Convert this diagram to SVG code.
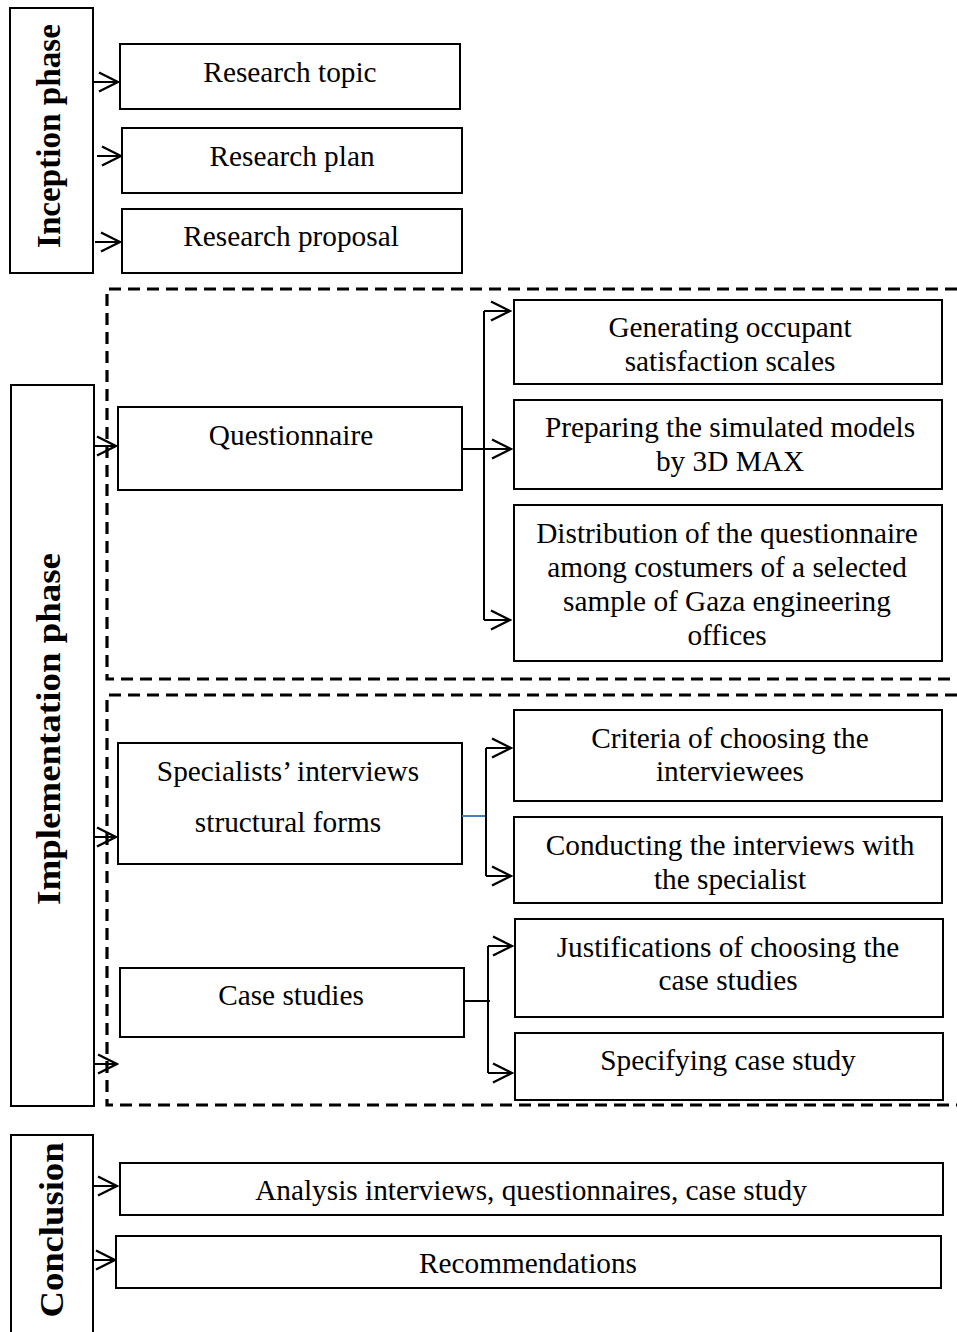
<svg xmlns="http://www.w3.org/2000/svg" width="957" height="1332" viewBox="0 0 957 1332">
<style>
.box{fill:#fff;stroke:#000;stroke-width:2}
.t{font-family:"Liberation Serif","Times New Roman",serif;font-size:29.3px;text-anchor:middle;fill:#000}
.v{font-family:"Liberation Serif","Times New Roman",serif;font-size:33px;font-weight:bold;text-anchor:middle;fill:#000}
.ln{fill:none;stroke:#000;stroke-width:2}
.dash{fill:none;stroke:#000;stroke-width:3.2;stroke-dasharray:12 7}
</style>
<defs>
<marker id="ah" markerUnits="userSpaceOnUse" markerWidth="24" markerHeight="24" refX="22" refY="12" orient="auto" viewBox="0 0 24 24">
<path d="M3,2.5 L22,12 L3,21.5" fill="none" stroke="#000" stroke-width="2.4"/>
</marker>
</defs>

<g id="dashed-frames">
<path class="dash" d="M957,289 L107,289 L107,679 L957,679"/>
<path class="dash" d="M957,695 L107,695 L107,1105 L957,1105"/>
</g>

<g id="inception-phase">
<rect class="box" x="10" y="8" width="83" height="265"/>
<text class="v" transform="translate(60,136) rotate(-90)" textLength="224" lengthAdjust="spacingAndGlyphs">Inception phase</text>
</g>
<g id="research-topic">
<rect class="box" x="120" y="44" width="340" height="65"/>
<text class="t" x="290" y="82">Research topic</text>
</g>
<g id="research-plan">
<rect class="box" x="122" y="128" width="340" height="65"/>
<text class="t" x="292" y="166">Research plan</text>
</g>
<g id="research-proposal">
<rect class="box" x="122" y="209" width="340" height="64"/>
<text class="t" x="291" y="246">Research proposal</text>
</g>

<g id="implementation-phase">
<path class="box" d="M94,385 L11,385 L11,1106 L94,1106 Z"/>
<text class="v" transform="translate(60,729) rotate(-90)" textLength="352" lengthAdjust="spacingAndGlyphs">Implementation phase</text>
</g>

<g id="questionnaire">
<rect class="box" x="118" y="407" width="344" height="83"/>
<text class="t" x="291" y="445">Questionnaire</text>
</g>
<g id="generating">
<rect class="box" x="514" y="300" width="428" height="84"/>
<text class="t" x="730" y="337">Generating occupant</text>
<text class="t" x="730" y="371">satisfaction scales</text>
</g>
<g id="preparing">
<rect class="box" x="514" y="400" width="428" height="89"/>
<text class="t" x="730" y="437">Preparing the simulated models</text>
<text class="t" x="730" y="471">by 3D MAX</text>
</g>
<g id="distribution">
<rect class="box" x="514" y="505" width="428" height="156"/>
<text class="t" x="727" y="543">Distribution of the questionnaire</text>
<text class="t" x="727" y="577">among costumers of a selected</text>
<text class="t" x="727" y="611">sample of Gaza engineering</text>
<text class="t" x="727" y="645">offices</text>
</g>

<g id="specialists">
<rect class="box" x="118" y="743" width="344" height="121"/>
<text class="t" x="288" y="781">Specialists’ interviews</text>
<text class="t" x="288" y="832">structural forms</text>
</g>
<g id="criteria">
<rect class="box" x="514" y="710" width="428" height="91"/>
<text class="t" x="730" y="748">Criteria of choosing the</text>
<text class="t" x="730" y="781">interviewees</text>
</g>
<g id="conducting">
<rect class="box" x="514" y="817" width="428" height="86"/>
<text class="t" x="730" y="855">Conducting the interviews with</text>
<text class="t" x="730" y="889">the specialist</text>
</g>
<g id="case-studies">
<rect class="box" x="120" y="968" width="344" height="69"/>
<text class="t" x="291" y="1005">Case studies</text>
</g>
<g id="justifications">
<rect class="box" x="515" y="919" width="428" height="98"/>
<text class="t" x="728" y="957">Justifications of choosing the</text>
<text class="t" x="728" y="990">case studies</text>
</g>
<g id="specifying">
<rect class="box" x="515" y="1033" width="428" height="67"/>
<text class="t" x="728" y="1070">Specifying case study</text>
</g>

<g id="conclusion">
<path class="box" d="M11,1332 L11,1135 L93,1135 L93,1332"/>
<text class="v" transform="translate(63,1230) rotate(-90)" textLength="175" lengthAdjust="spacingAndGlyphs">Conclusion</text>
</g>
<g id="analysis">
<rect class="box" x="120" y="1163" width="823" height="52"/>
<text class="t" x="531" y="1200">Analysis interviews, questionnaires, case study</text>
</g>
<g id="recommendations">
<rect class="box" x="116" y="1236" width="825" height="52"/>
<text class="t" x="528" y="1273">Recommendations</text>
</g>

<g id="connectors">
<path class="ln" d="M93,82 L118,82" marker-end="url(#ah)"/>
<path class="ln" d="M97,156 L121,156" marker-end="url(#ah)"/>
<path class="ln" d="M95,242 L120,242" marker-end="url(#ah)"/>

<path class="ln" d="M94,446 L116,446" marker-end="url(#ah)"/>
<path class="ln" d="M94,837 L116,837" marker-end="url(#ah)"/>
<path class="ln" d="M94,1064 L117,1064" marker-end="url(#ah)"/>

<path class="ln" d="M484,311 L484,620"/>
<path class="ln" d="M484,311 L510,311" marker-end="url(#ah)"/>
<path class="ln" d="M462,449 L511,449" marker-end="url(#ah)"/>
<path class="ln" d="M484,620 L510,620" marker-end="url(#ah)"/>

<path d="M462,816 L486,816" fill="none" stroke="#4a7ebb" stroke-width="2"/>
<path class="ln" d="M486,748 L486,876"/>
<path class="ln" d="M486,748 L511,748" marker-end="url(#ah)"/>
<path class="ln" d="M486,876 L511,876" marker-end="url(#ah)"/>

<path class="ln" d="M464,1001 L490,1001"/>
<path class="ln" d="M488,946 L488,1073"/>
<path class="ln" d="M488,946 L512,946" marker-end="url(#ah)"/>
<path class="ln" d="M488,1073 L512,1073" marker-end="url(#ah)"/>

<path class="ln" d="M93,1186 L117,1186" marker-end="url(#ah)"/>
<path class="ln" d="M93,1260 L115,1260" marker-end="url(#ah)"/>
</g>
</svg>
